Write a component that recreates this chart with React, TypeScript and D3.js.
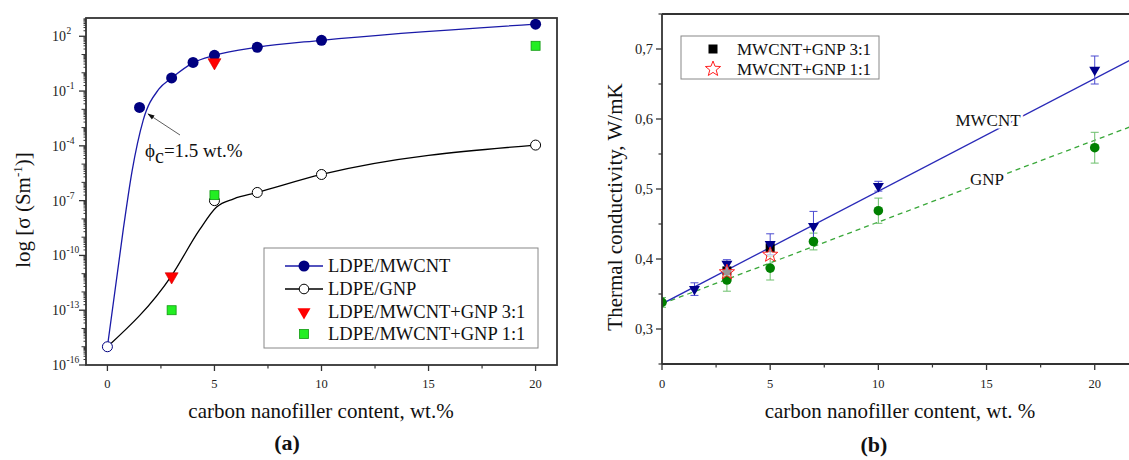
import React from 'react';
import * as d3 from 'd3';

const W = 1129;
const H = 460;
const FONT = '"Liberation Serif", "Times New Roman", serif';

// ---------- (a) electrical conductivity ----------
const aMwcntX = [1.5, 3, 4, 5, 7, 10, 20];
const aMwcntS = [1.26e-2, 5.2e-1, 3.7, 9.1, 25, 60, 457];
const aMwcntFitX = [0, 0.75, 1.15, 1.67, 2.4, 3, 4, 5, 7, 10, 20];
const aMwcntFitS = [1e-15, 3.2e-9, 4e-6, 2.5e-3, 1.26e-1, 5.2e-1, 3.5, 8.9, 25, 60, 457];
const aGnpX = [0, 5, 7, 10, 20];
const aGnpS = [1e-15, 1e-7, 2.8e-7, 2.7e-6, 1.1e-4];
const aGnpFitX = [0, 3, 4.3, 5.1, 5.9, 7, 10, 20];
const aGnpFitS = [1e-15, 7.9e-12, 2.5e-9, 4.5e-8, 1.26e-7, 2.8e-7, 2.7e-6, 1.1e-4];
const aHyb31X = [3, 5];
const aHyb31S = [7e-12, 3.7];
const aHyb11X = [3, 5, 20];
const aHyb11S = [1e-13, 2e-7, 30];
const aYTickExp = [-16, -13, -10, -7, -4, -1, 2];
const aXTicks = [0, 5, 10, 15, 20];
const aXMinor = [2.5, 7.5, 12.5, 17.5];
const aLegend = ['LDPE/MWCNT', 'LDPE/GNP', 'LDPE/MWCNT+GNP 3:1', 'LDPE/MWCNT+GNP 1:1'];

// ---------- (b) thermal conductivity ----------
const bMwcntX = [1.5, 3, 5, 7, 10, 20];
const bMwcntY = [0.357, 0.393, 0.421, 0.447, 0.504, 0.67];
const bMwcntErr = [0.009, 0.006, 0.015, 0.021, 0.007, 0.02];
const bGnpX = [0, 3, 5, 7, 10, 20];
const bGnpY = [0.338, 0.37, 0.387, 0.425, 0.469, 0.559];
const bGnpErr = [0.007, 0.016, 0.017, 0.012, 0.018, 0.022];
const bHyb31X = [3, 5];
const bHyb31Y = [0.383, 0.416];
const bHyb11X = [3, 5];
const bHyb11Y = [0.381, 0.406];
const bMwcntFitX = [0, 22];
const bMwcntFitY = [0.336, 0.69];
const bGnpFitX = [0, 22];
const bGnpFitY = [0.336, 0.593];
const bYTicks = [0.3, 0.4, 0.5, 0.6, 0.7];
const bYMinor = [0.25, 0.35, 0.45, 0.55, 0.65, 0.75];
const bXTicks = [0, 5, 10, 15, 20];
const bXMinor = [2.5, 7.5, 12.5, 17.5];
const bLegend = ['MWCNT+GNP 3:1', 'MWCNT+GNP 1:1'];

// scales
const ax = d3.scaleLinear().domain([-1, 21]).range([86, 557]);
const ay = d3.scaleLog().domain([1e-16, 1e3]).range([365, 18]);
const bx = d3.scaleLinear().domain([0, 22]).range([662, 1138]);
const by = d3.scaleLinear().domain([0.25, 0.75]).range([364, 14]);

function triDown(cx: number, cy: number, w: number) {
  const h = w * 0.866;
  return `M${cx - w / 2},${cy - h / 3}L${cx + w / 2},${cy - h / 3}L${cx},${cy + (2 * h) / 3}Z`;
}
function star(cx: number, cy: number, R: number, r: number) {
  const pts: string[] = [];
  for (let i = 0; i < 10; i++) {
    const rad = i % 2 === 0 ? R : r;
    const a = -Math.PI / 2 + (i * Math.PI) / 5;
    pts.push(`${cx + rad * Math.cos(a)},${cy + rad * Math.sin(a)}`);
  }
  return 'M' + pts.join('L') + 'Z';
}

const NAVY = '#000080';
const AXIS = '#333';

function PanelA() {
  const mwPath = d3
    .line<[number, number]>()
    .x((d) => ax(d[0]))
    .y((d) => ay(d[1]))
    .curve(d3.curveMonotoneX)(aMwcntFitX.map((x, i) => [x, aMwcntFitS[i]]));
  const gnPath = d3
    .line<[number, number]>()
    .x((d) => ax(d[0]))
    .y((d) => ay(d[1]))
    .curve(d3.curveMonotoneX)(aGnpFitX.map((x, i) => [x, aGnpFitS[i]]));

  const minorLog: number[] = [];
  for (let e = -16; e < 3; e++) {
    for (let m = 1; m < 10; m++) {
      const v = m * Math.pow(10, e);
      if (m === 1 && (e + 16) % 3 === 0) continue;
      minorLog.push(v);
    }
  }
  const [x0, x1] = ax.range();
  const [y1, y0] = ay.range();
  const legY = [266, 289, 312, 334];
  return (
    <g fontFamily={FONT}>
      <path d={mwPath || ''} fill="none" stroke="#1a1aa8" strokeWidth={1.3} />
      <path d={gnPath || ''} fill="none" stroke="#000" strokeWidth={1.3} />
      {aGnpX.map((x, i) => (
        <circle key={'g' + i} cx={ax(x)} cy={ay(aGnpS[i])} r={5} fill="#fff" stroke={i === 0 ? NAVY : '#000'} strokeWidth={1} />
      ))}
      {aMwcntX.map((x, i) => (
        <circle key={'m' + i} cx={ax(x)} cy={ay(aMwcntS[i])} r={5.5} fill={NAVY} />
      ))}
      {aHyb31X.map((x, i) => (
        <path key={'t' + i} d={triDown(ax(x), ay(aHyb31S[i]), 13)} fill="#ff0000" stroke="#cc0000" strokeWidth={0.6} />
      ))}
      {aHyb11X.map((x, i) => (
        <rect key={'s' + i} x={ax(x) - 4.5} y={ay(aHyb11S[i]) - 4.5} width={9} height={9} fill="#22ee22" stroke="#119911" strokeWidth={0.8} />
      ))}
      {/* frame */}
      <rect x={x0} y={y0} width={x1 - x0} height={y1 - y0} fill="none" stroke={AXIS} strokeWidth={1.8} />
      {/* y ticks */}
      {aYTickExp.map((e) => {
        const y = ay(Math.pow(10, e));
        return (
          <g key={'yt' + e}>
            <line x1={x0 - 7} x2={x0} y1={y} y2={y} stroke={AXIS} strokeWidth={1.3} />
            <text x={66} y={y + 5} fontSize={14} textAnchor="end" fill="#222">10</text>
            <text x={66.5} y={y - 2} fontSize={9.5} fill="#222">{e}</text>
          </g>
        );
      })}
      {minorLog.map((v, i) => {
        const y = ay(v);
        const isDecade = Math.abs(Math.log10(v) - Math.round(Math.log10(v))) < 1e-9;
        const len = isDecade ? 4.5 : 2.5;
        return <line key={'ym' + i} x1={x0 - len} x2={x0} y1={y} y2={y} stroke={AXIS} strokeWidth={1} />;
      })}
      {/* x ticks */}
      {aXTicks.map((t) => (
        <g key={'xt' + t}>
          <line x1={ax(t)} x2={ax(t)} y1={y1} y2={y1 + 6} stroke={AXIS} strokeWidth={1.3} />
          <text x={ax(t)} y={y1 + 23} fontSize={12.5} textAnchor="middle" fill="#222">{t}</text>
        </g>
      ))}
      {aXMinor.map((t) => (
        <line key={'xm' + t} x1={ax(t)} x2={ax(t)} y1={y1} y2={y1 + 3.5} stroke={AXIS} strokeWidth={1.2} />
      ))}
      {/* annotation */}
      <line x1={180} y1={135} x2={148} y2={114} stroke="#333" strokeWidth={0.8} markerEnd="url(#arrowA)" />
      <text x={145} y={157} fontSize={19} fill="#111">
        ϕ<tspan dy={6} fontSize={20}>c</tspan>
        <tspan dy={-6}>=1.5 wt.%</tspan>
      </text>
      {/* legend */}
      <rect x={264} y={248} width={274} height={100} fill="#fff" stroke="#888" strokeWidth={1} />
      {aLegend.map((lab, i) => {
        const y = legY[i];
        const cx = 304;
        let sym: React.ReactNode = null;
        if (i === 0)
          sym = (
            <g>
              <line x1={285} x2={323} y1={y} y2={y} stroke="#1a1aa8" strokeWidth={1.3} />
              <circle cx={cx} cy={y} r={5.5} fill={NAVY} />
            </g>
          );
        else if (i === 1)
          sym = (
            <g>
              <line x1={285} x2={323} y1={y} y2={y} stroke="#000" strokeWidth={1.3} />
              <circle cx={cx} cy={y} r={4.8} fill="#fff" stroke="#000" />
            </g>
          );
        else if (i === 2) sym = <path d={triDown(cx, y, 13)} fill="#ff0000" />;
        else sym = <rect x={cx - 4.5} y={y - 4.5} width={9} height={9} fill="#22ee22" stroke="#119911" strokeWidth={0.8} />;
        return (
          <g key={'lg' + i}>
            {sym}
            <text x={328} y={y + 6} fontSize={18.5} fill="#111">{lab}</text>
          </g>
        );
      })}
      {/* axis titles */}
      <text transform="translate(30,210) rotate(-90)" fontSize={21} textAnchor="middle" fill="#111">
        log [σ (Sm<tspan dy={-8} fontSize={13}>-1</tspan>
        <tspan dy={8}>)]</tspan>
      </text>
      <text x={321} y={418} fontSize={21} textAnchor="middle" fill="#111">carbon nanofiller content, wt.%</text>
      <text x={287} y={450} fontSize={22} textAnchor="middle" fontWeight="bold" fill="#111">(a)</text>
    </g>
  );
}

function PanelB() {
  const line = d3
    .line<[number, number]>()
    .x((d) => bx(d[0]))
    .y((d) => by(d[1]));
  const mwFit = line(bMwcntFitX.map((x, i) => [x, bMwcntFitY[i]]));
  const gnFit = line(bGnpFitX.map((x, i) => [x, bGnpFitY[i]]));
  const x0 = 662;
  const y0 = 14;
  const y1 = 364;
  const blueErr = '#4a4ad0';
  const greenErr = '#6cbf6c';
  const cap = 4;
  return (
    <g fontFamily={FONT}>
      <defs>
        <clipPath id="clipB">
          <rect x={x0} y={y0} width={W - x0} height={y1 - y0} />
        </clipPath>
      </defs>
      <g clipPath="url(#clipB)">
        <path d={gnFit || ''} fill="none" stroke="#3aa83a" strokeWidth={1.3} strokeDasharray="5,4" />
        <path d={mwFit || ''} fill="none" stroke="#2a2ab8" strokeWidth={1.3} />
        {bGnpX.map((x, i) => {
          const cx = bx(x);
          const t = by(bGnpY[i] + bGnpErr[i]);
          const b = by(bGnpY[i] - bGnpErr[i]);
          return (
            <g key={'ge' + i} stroke={greenErr} strokeWidth={1}>
              <line x1={cx} x2={cx} y1={t} y2={b} />
              <line x1={cx - cap} x2={cx + cap} y1={t} y2={t} />
              <line x1={cx - cap} x2={cx + cap} y1={b} y2={b} />
            </g>
          );
        })}
        {bMwcntX.map((x, i) => {
          const cx = bx(x);
          const t = by(bMwcntY[i] + bMwcntErr[i]);
          const b = by(bMwcntY[i] - bMwcntErr[i]);
          return (
            <g key={'me' + i} stroke={blueErr} strokeWidth={1}>
              <line x1={cx} x2={cx} y1={t} y2={b} />
              <line x1={cx - cap} x2={cx + cap} y1={t} y2={t} />
              <line x1={cx - cap} x2={cx + cap} y1={b} y2={b} />
            </g>
          );
        })}
        {bHyb31X.map((x, i) => (
          <rect key={'bs' + i} x={bx(x) - 4.5} y={by(bHyb31Y[i]) - 4.5} width={9} height={9} fill="#000" />
        ))}
        {bMwcntX.map((x, i) => (
          <path key={'bt' + i} d={triDown(bx(x), by(bMwcntY[i]), 11)} fill="#00008b" />
        ))}
        {bGnpX.map((x, i) => (
          <circle key={'bc' + i} cx={bx(x)} cy={by(bGnpY[i])} r={4.8} fill="#008000" />
        ))}
        {bHyb11X.map((x, i) => (
          <path key={'bst' + i} d={star(bx(x), by(bHyb11Y[i]), 8, 3.4)} fill="#fff" fillOpacity={0.6} stroke="#ff2020" strokeWidth={1} />
        ))}
        {/* inline labels */}
        <text x={988} y={126} fontSize={17} textAnchor="middle" fill="#111" stroke="#fff" strokeWidth={5} paintOrder="stroke" strokeLinejoin="round">MWCNT</text>
        <text x={987} y={185} fontSize={17} textAnchor="middle" fill="#111" stroke="#fff" strokeWidth={5} paintOrder="stroke" strokeLinejoin="round">GNP</text>
      </g>
      {/* axes */}
      <line x1={x0} x2={x0} y1={y0} y2={y1} stroke={AXIS} strokeWidth={1.8} />
      <line x1={x0} x2={W} y1={y1} y2={y1} stroke={AXIS} strokeWidth={1.8} />
      <line x1={x0} x2={W} y1={y0} y2={y0} stroke={AXIS} strokeWidth={1.8} />
      {bYTicks.map((t) => (
        <g key={'byt' + t}>
          <line x1={x0 - 6} x2={x0} y1={by(t)} y2={by(t)} stroke={AXIS} strokeWidth={1.3} />
          <text x={653} y={by(t) + 5} fontSize={14.5} textAnchor="end" fill="#222">{String(t).replace('.', ',')}</text>
        </g>
      ))}
      {bYMinor.map((t) => (
        <line key={'bym' + t} x1={x0 - 3.5} x2={x0} y1={by(t)} y2={by(t)} stroke={AXIS} strokeWidth={1.2} />
      ))}
      {bXTicks.map((t) => (
        <g key={'bxt' + t}>
          <line x1={bx(t)} x2={bx(t)} y1={y1} y2={y1 + 6} stroke={AXIS} strokeWidth={1.3} />
          <text x={bx(t)} y={y1 + 24} fontSize={12.5} textAnchor="middle" fill="#222">{t}</text>
        </g>
      ))}
      {bXMinor.map((t) => (
        <line key={'bxm' + t} x1={bx(t)} x2={bx(t)} y1={y1} y2={y1 + 3.5} stroke={AXIS} strokeWidth={1.2} />
      ))}
      {/* legend */}
      <rect x={681} y={36} width={198} height={43} fill="#fff" stroke="#888" strokeWidth={1} />
      <rect x={713 - 4.5} y={49 - 4.5} width={9} height={9} fill="#000" />
      <path d={star(713, 69, 8, 3.4)} fill="#fff" stroke="#ff2020" strokeWidth={1} />
      {bLegend.map((lab, i) => (
        <text key={'bl' + i} x={737} y={[55, 75][i]} fontSize={17} fill="#111">{lab}</text>
      ))}
      {/* titles */}
      <text transform="translate(622,207) rotate(-90)" fontSize={21} textAnchor="middle" fill="#111">Thermal conductivity, W/mK</text>
      <text x={900} y={418} fontSize={21} textAnchor="middle" fill="#111">carbon nanofiller content, wt. %</text>
      <text x={874} y={452} fontSize={22} textAnchor="middle" fontWeight="bold" fill="#111">(b)</text>
    </g>
  );
}

export default function App() {
  return (
    <svg
      width={W}
      height={H}
      viewBox={`0 0 ${W} ${H}`}
      style={{ position: 'absolute', left: 0, top: 0, background: '#fff' }}
    >
      <defs>
        <marker id="arrowA" viewBox="0 0 10 10" refX={9} refY={5} markerWidth={7} markerHeight={7} orient="auto" markerUnits="userSpaceOnUse">
          <path d="M0,1.5L10,5L0,8.5Z" fill="#111" />
        </marker>
      </defs>
      <rect x={0} y={0} width={W} height={H} fill="#fff" />
      <PanelA />
      <PanelB />
    </svg>
  );
}
